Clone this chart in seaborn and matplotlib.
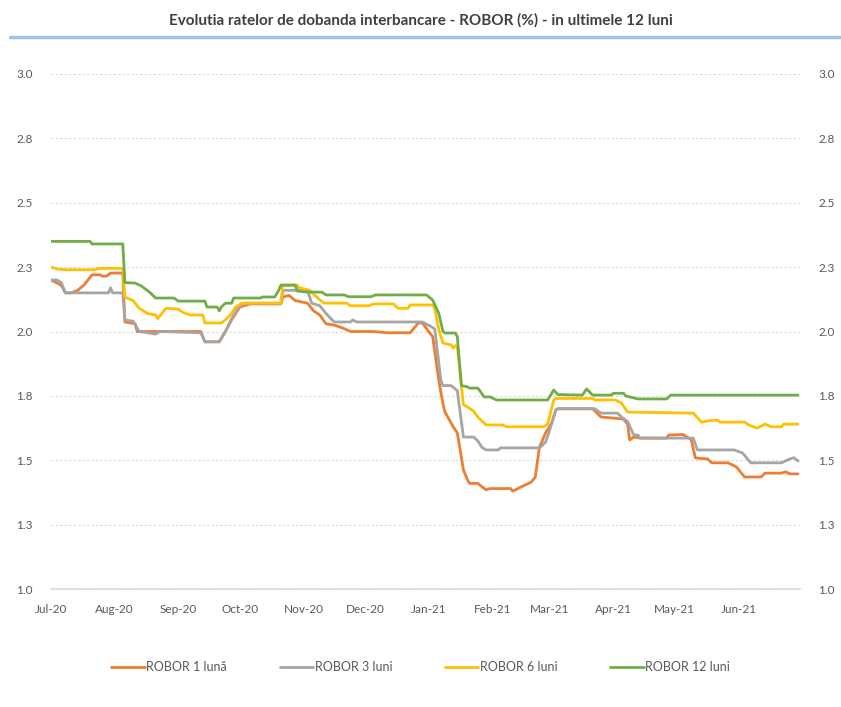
import pandas as pd
import matplotlib.pyplot as plt
import seaborn as sns

# values (breakpoints of each daily series)
dates_1m = ["2020-07-01", "2020-07-06", "2020-07-08", "2020-07-11", "2020-07-14", "2020-07-17",
            "2020-07-19", "2020-07-21", "2020-07-25", "2020-07-26", "2020-07-28", "2020-07-30",
            "2020-08-05", "2020-08-06", "2020-08-11", "2020-08-12", "2020-09-01", "2020-09-12",
            "2020-09-14", "2020-09-21", "2020-09-24", "2020-09-27", "2020-10-01", "2020-10-06",
            "2020-10-21", "2020-10-22", "2020-10-25", "2020-10-28", "2020-11-03", "2020-11-06",
            "2020-11-09", "2020-11-12", "2020-11-16", "2020-11-20", "2020-11-24", "2020-12-05",
            "2020-12-12", "2020-12-23", "2020-12-27", "2020-12-29", "2021-01-01", "2021-01-03",
            "2021-01-06", "2021-01-08", "2021-01-09", "2021-01-13", "2021-01-15", "2021-01-18",
            "2021-01-20", "2021-01-21", "2021-01-25", "2021-01-29", "2021-01-31", "2021-02-10",
            "2021-02-11", "2021-02-15", "2021-02-20", "2021-02-22", "2021-02-24", "2021-02-27",
            "2021-03-02", "2021-03-04", "2021-03-05", "2021-03-22", "2021-03-26", "2021-04-06",
            "2021-04-08", "2021-04-09", "2021-04-11", "2021-04-14", "2021-04-27", "2021-04-28",
            "2021-05-05", "2021-05-09", "2021-05-11", "2021-05-17", "2021-05-19", "2021-05-27",
            "2021-05-31", "2021-06-04", "2021-06-12", "2021-06-14", "2021-06-22", "2021-06-24",
            "2021-06-26", "2021-06-30"]
robor_1m = [2.20, 2.18, 2.15, 2.15, 2.16, 2.18,
            2.20, 2.22, 2.22, 2.215, 2.215, 2.227,
            2.227, 2.037, 2.03, 2.00, 2.00, 2.00,
            1.96, 1.96, 2.00, 2.045, 2.095, 2.107,
            2.107, 2.134, 2.14, 2.12, 2.11, 2.08,
            2.064, 2.03, 2.025, 2.014, 2.00, 2.00,
            1.995, 1.995, 2.033, 2.033, 2.00, 1.98,
            1.81, 1.72, 1.687, 1.63, 1.606, 1.462,
            1.423, 1.41, 1.41, 1.385, 1.39, 1.39,
            1.38, 1.396, 1.415, 1.435, 1.55, 1.606,
            1.645, 1.695, 1.70, 1.70, 1.668, 1.66,
            1.64, 1.579, 1.59, 1.586, 1.586, 1.598,
            1.60, 1.58, 1.509, 1.505, 1.49, 1.49,
            1.474, 1.435, 1.435, 1.45, 1.45, 1.455,
            1.447, 1.447]

dates_3m = ["2020-07-01", "2020-07-04", "2020-07-06", "2020-07-08", "2020-07-29", "2020-07-30",
            "2020-07-31", "2020-08-05", "2020-08-06", "2020-08-10", "2020-08-13", "2020-08-21",
            "2020-08-23", "2020-09-12", "2020-09-14", "2020-09-21", "2020-09-24", "2020-09-27",
            "2020-10-01", "2020-10-04", "2020-10-21", "2020-10-22", "2020-11-03", "2020-11-05",
            "2020-11-09", "2020-11-12", "2020-11-16", "2020-11-24", "2020-11-25", "2020-11-27",
            "2020-12-29", "2021-01-02", "2021-01-04", "2021-01-07", "2021-01-08", "2021-01-12",
            "2021-01-15", "2021-01-18", "2021-01-23", "2021-01-25", "2021-01-27", "2021-01-29",
            "2021-02-04", "2021-02-05", "2021-02-24", "2021-02-27", "2021-03-01", "2021-03-04",
            "2021-03-05", "2021-03-23", "2021-03-26", "2021-04-03", "2021-04-05", "2021-04-08",
            "2021-04-11", "2021-04-13", "2021-04-14", "2021-05-10", "2021-05-12", "2021-05-30",
            "2021-06-03", "2021-06-06", "2021-06-07", "2021-06-22", "2021-06-26", "2021-06-28",
            "2021-06-30"]
robor_3m = [2.20, 2.20, 2.19, 2.15, 2.15, 2.17,
            2.15, 2.15, 2.045, 2.04, 2.00, 1.99,
            2.00, 1.995, 1.96, 1.96, 2.00, 2.05,
            2.10, 2.11, 2.11, 2.16, 2.16, 2.11,
            2.10, 2.07, 2.037, 2.037, 2.045, 2.037,
            2.037, 2.02, 2.01, 1.81, 1.79, 1.79,
            1.77, 1.59, 1.59, 1.575, 1.55, 1.54,
            1.54, 1.548, 1.548, 1.57, 1.617, 1.695,
            1.70, 1.70, 1.683, 1.683, 1.668, 1.65,
            1.598, 1.598, 1.586, 1.586, 1.54, 1.54,
            1.528, 1.50, 1.49, 1.49, 1.505, 1.51,
            1.497]

dates_6m = ["2020-07-01", "2020-07-04", "2020-07-08", "2020-07-22", "2020-07-25", "2020-08-05",
            "2020-08-06", "2020-08-10", "2020-08-13", "2020-08-17", "2020-08-21", "2020-08-22",
            "2020-08-26", "2020-09-01", "2020-09-03", "2020-09-07", "2020-09-13", "2020-09-14",
            "2020-09-22", "2020-09-24", "2020-09-27", "2020-09-29", "2020-10-02", "2020-10-21",
            "2020-10-22", "2020-10-29", "2020-10-30", "2020-11-04", "2020-11-08", "2020-11-11",
            "2020-11-22", "2020-11-24", "2020-12-03", "2020-12-05", "2020-12-15", "2020-12-17",
            "2020-12-22", "2020-12-23", "2021-01-03", "2021-01-04", "2021-01-06", "2021-01-08",
            "2021-01-12", "2021-01-13", "2021-01-14", "2021-01-15", "2021-01-18", "2021-01-20",
            "2021-01-23", "2021-01-25", "2021-01-28", "2021-01-29", "2021-02-06", "2021-02-08",
            "2021-02-26", "2021-02-28", "2021-03-03", "2021-03-04", "2021-03-22", "2021-03-23",
            "2021-04-02", "2021-04-05", "2021-04-08", "2021-05-10", "2021-05-14", "2021-05-19",
            "2021-05-22", "2021-05-23", "2021-06-04", "2021-06-06", "2021-06-10", "2021-06-14",
            "2021-06-17", "2021-06-22", "2021-06-23", "2021-06-30"]
robor_6m = [2.25, 2.243, 2.24, 2.24, 2.245, 2.245,
            2.134, 2.12, 2.09, 2.07, 2.064, 2.05,
            2.09, 2.087, 2.075, 2.064, 2.064, 2.033,
            2.033, 2.045, 2.07, 2.095, 2.11, 2.11,
            2.18, 2.18, 2.17, 2.16, 2.13, 2.11,
            2.11, 2.10, 2.10, 2.107, 2.107, 2.09,
            2.09, 2.103, 2.103, 2.09, 2.006, 1.955,
            1.948, 1.935, 1.945, 1.94, 1.715, 1.707,
            1.69, 1.668, 1.645, 1.637, 1.637, 1.63,
            1.63, 1.64, 1.734, 1.74, 1.74, 1.734,
            1.734, 1.722, 1.687, 1.683, 1.648, 1.655,
            1.655, 1.648, 1.648, 1.637, 1.625, 1.64,
            1.63, 1.63, 1.64, 1.64]

dates_12m = ["2020-07-01", "2020-07-20", "2020-07-21", "2020-08-05", "2020-08-06", "2020-08-11",
             "2020-08-14", "2020-08-18", "2020-08-21", "2020-08-30", "2020-09-01", "2020-09-14",
             "2020-09-15", "2020-09-20", "2020-09-21", "2020-09-22", "2020-09-24", "2020-09-27",
             "2020-09-28", "2020-10-11", "2020-10-12", "2020-10-18", "2020-10-20", "2020-10-21",
             "2020-10-28", "2020-10-29", "2020-11-03", "2020-11-10", "2020-11-12", "2020-11-21",
             "2020-11-23", "2020-12-04", "2020-12-06", "2020-12-31", "2021-01-03", "2021-01-06",
             "2021-01-08", "2021-01-09", "2021-01-14", "2021-01-15", "2021-01-17", "2021-01-20",
             "2021-01-21", "2021-01-25", "2021-01-26", "2021-01-28", "2021-01-31", "2021-02-03",
             "2021-02-28", "2021-03-03", "2021-03-05", "2021-03-17", "2021-03-19", "2021-03-22",
             "2021-03-31", "2021-04-01", "2021-04-06", "2021-04-07", "2021-04-13", "2021-04-27",
             "2021-04-29", "2021-06-30"]
robor_12m = [2.35, 2.35, 2.34, 2.34, 2.19, 2.188,
             2.177, 2.153, 2.13, 2.13, 2.118, 2.118,
             2.095, 2.095, 2.08, 2.095, 2.11, 2.11,
             2.13, 2.13, 2.134, 2.134, 2.16, 2.18,
             2.18, 2.157, 2.153, 2.153, 2.142, 2.142,
             2.135, 2.135, 2.142, 2.142, 2.122, 2.07,
             2.00, 1.994, 1.994, 1.98, 1.79, 1.785,
             1.78, 1.78, 1.77, 1.746, 1.746, 1.734,
             1.734, 1.773, 1.755, 1.753, 1.777, 1.753,
             1.753, 1.76, 1.76, 1.75, 1.738, 1.738,
             1.753, 1.753]

labels = ["ROBOR 1 lună", "ROBOR 3 luni", "ROBOR 6 luni", "ROBOR 12 luni"]
colors = ["#ED7D31", "#A5A5A5", "#FFC000", "#70AD47"]
y_ticks = [1.0, 1.25, 1.5, 1.75, 2.0, 2.25, 2.5, 2.75, 3.0]
y_labels = ["1.0", "1.3", "1.5", "1.8", "2.0", "2.3", "2.5", "2.8", "3.0"]

frames = []
for lab, d, v in zip(labels, [dates_1m, dates_3m, dates_6m, dates_12m],
                     [robor_1m, robor_3m, robor_6m, robor_12m]):
    frames.append(pd.DataFrame({"Data": pd.to_datetime(d), "Rata": v, "Serie": lab}))
df = pd.concat(frames, ignore_index=True)

sns.set_theme(style="white")
plt.rcParams["font.family"] = ["Lato", "DejaVu Sans"]
txt = "#595959"

fig = plt.figure(figsize=(8.41, 7.07), dpi=100)
ax = fig.add_axes([51 / 841, 1 - 589 / 707, 749 / 841, 515 / 707])

sns.lineplot(data=df, x="Data", y="Rata", hue="Serie", hue_order=labels,
             palette=colors, linewidth=2.0, ax=ax, legend=False)

ax.set_xlim(pd.Timestamp("2020-07-01"), pd.Timestamp("2021-07-01"))
ax.set_ylim(1.0, 3.0)
ax.set_yticks(y_ticks)
ax.set_yticklabels(y_labels)
ax.yaxis.grid(True, color="#d9d9d9", linestyle=(0, (2, 2)), linewidth=0.8)
ax.xaxis.grid(False)

# month ticks; Excel leaves the closing Jul-21 tick unlabeled
months = pd.date_range("2020-07-01", "2021-07-01", freq="MS")
ax.set_xticks(months)
ax.set_xticklabels([m.strftime("%b-%y") for m in months[:-1]] + [""])
ax.tick_params(axis="x", colors="#d9d9d9", length=5, width=1, direction="out",
               labelcolor=txt, labelsize=8.5, pad=6)
ax.tick_params(axis="y", length=0, labelcolor=txt, labelsize=8.5, labelright=True,
               pad=13)
for s in ["top", "left", "right"]:
    ax.spines[s].set_visible(False)
ax.spines["bottom"].set_color("#d9d9d9")
ax.spines["bottom"].set_linewidth(1.2)
ax.set_xlabel("")
ax.set_ylabel("")

fig.text(0.5, 1 - 20 / 707, "Evolutia ratelor de dobanda interbancare - ROBOR (%) - in ultimele 12 luni",
         ha="center", va="center", fontsize=11, fontweight="bold", color="#404040")
fig.add_artist(plt.Line2D([10 / 841, 840 / 841], [1 - 37 / 707, 1 - 37 / 707],
                          color="#9DC3E6", linewidth=2.5))

handles = [plt.Line2D([], [], color=c, linewidth=2.0) for c in colors]
fig.legend(handles, labels, loc="center", bbox_to_anchor=(0.5, 1 - 667 / 707), ncol=4,
           frameon=False, fontsize=9, labelcolor=txt, handlelength=2.7, handletextpad=0.1,
           columnspacing=4.2)

fig.savefig("out.png", dpi=100)
